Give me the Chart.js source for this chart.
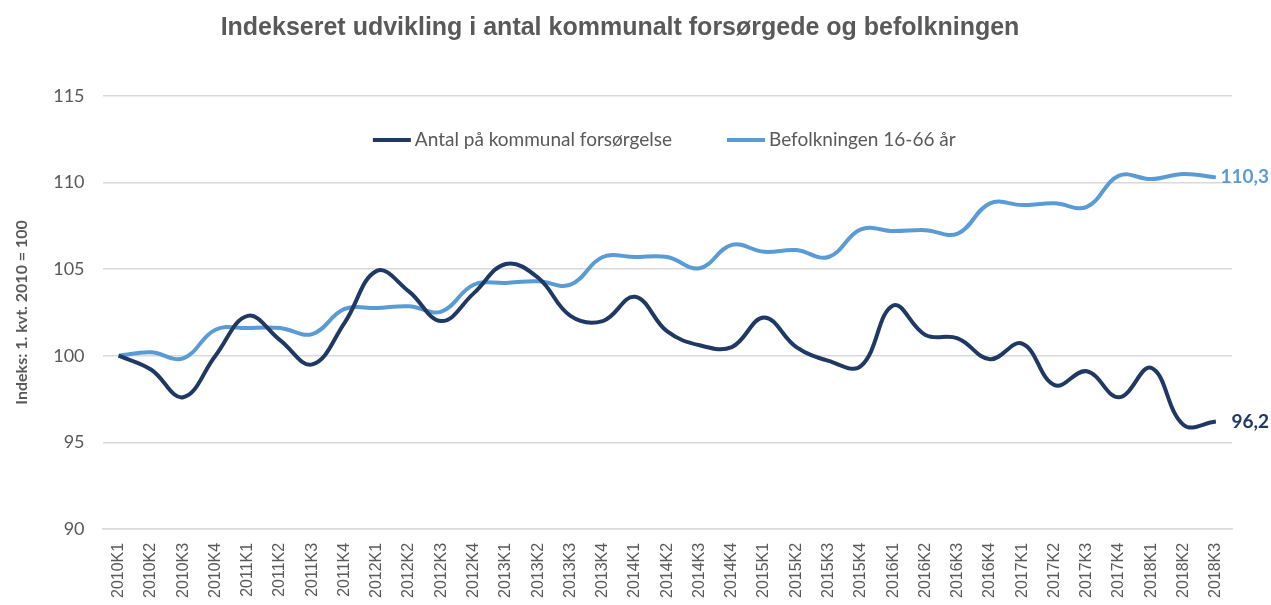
<!DOCTYPE html>
<html>
<head>
<meta charset="utf-8">
<script src="https://cdn.jsdelivr.net/npm/chart.js@4.4.1/dist/chart.umd.min.js"></script>
<style>
  html, body { margin: 0; padding: 0; background: #fff; }
  #wrap { width: 1271px; height: 605px; }
</style>
</head>
<body>
<div id="wrap"><canvas id="chart"></canvas></div>
<script>
// ======================
// Data
// ======================
const kvartaler = [
  "2010K1","2010K2","2010K3","2010K4",
  "2011K1","2011K2","2011K3","2011K4",
  "2012K1","2012K2","2012K3","2012K4",
  "2013K1","2013K2","2013K3","2013K4",
  "2014K1","2014K2","2014K3","2014K4",
  "2015K1","2015K2","2015K3","2015K4",
  "2016K1","2016K2","2016K3","2016K4",
  "2017K1","2017K2","2017K3","2017K4",
  "2018K1","2018K2","2018K3"
];

const forsoergede = [
  100.0, 99.2, 97.6, 100.0,
  102.3, 100.9, 99.5, 101.9,
  104.9, 103.7, 102.0, 103.6,
  105.3, 104.5, 102.3, 102.0,
  103.4, 101.4, 100.6, 100.5,
  102.2, 100.5, 99.7, 99.4,
  102.9, 101.2, 101.0, 99.8,
  100.7, 98.3, 99.1, 97.6,
  99.3, 96.0, 96.2
];

const befolkning = [
  100.0, 100.2, 99.85, 101.5,
  101.6, 101.6, 101.25, 102.7,
  102.75, 102.85, 102.55, 104.1,
  104.2, 104.3, 104.1, 105.7,
  105.7, 105.7, 105.05, 106.4,
  106.0, 106.1, 105.7, 107.3,
  107.2, 107.25, 107.05, 108.8,
  108.7, 108.8, 108.6, 110.4,
  110.2, 110.5, 110.3
];

const yTicks = [90, 95, 100, 105, 110, 115];

const MOERK = "#1f3864";
const LYS = "#5b9bd5";
const GRAA = "#595959";
const FONT = "Lato, 'Open Sans', sans-serif";
const ARIAL = "'Liberation Sans', Arial, sans-serif";

// Forklaring inde i plotområdet
const innerLegend = {
  id: "innerLegend",
  afterDraw(chart) {
    const ctx = chart.ctx;
    const area = chart.chartArea;
    const lineW = 38, gapTxt = 4, gapItem = 55;
    ctx.save();
    ctx.font = "19px " + FONT;
    ctx.textBaseline = "middle";
    const items = chart.data.datasets.map(ds => ({
      label: ds.label, color: ds.borderColor, w: lineW + gapTxt + ctx.measureText(ds.label).width
    }));
    const total = items.reduce((s, it) => s + it.w, 0) + gapItem * (items.length - 1);
    let x = (area.left + area.right) / 2 - total / 2 - 3;
    const y = area.top + 44;
    items.forEach(it => {
      ctx.fillStyle = it.color;
      ctx.fillRect(x, y - 2, lineW, 4);
      ctx.fillStyle = GRAA;
      ctx.fillText(it.label, x + lineW + gapTxt, y);
      x += it.w + gapItem;
    });
    ctx.restore();
  }
};

// Slutværdier ved sidste punkt
const endLabels = {
  id: "endLabels",
  afterDatasetsDraw(chart) {
    const ctx = chart.ctx;
    ctx.save();
    ctx.font = "bold 19px " + FONT;
    ctx.textBaseline = "middle";
    ctx.textAlign = "right";
    chart.data.datasets.forEach((ds, i) => {
      const meta = chart.getDatasetMeta(i);
      const pt = meta.data[meta.data.length - 1];
      const v = ds.data[ds.data.length - 1];
      ctx.fillStyle = ds.borderColor;
      ctx.fillText(v.toFixed(1).replace(".", ","), chart.width - 2, pt.y);
    });
    ctx.restore();
  }
};

new Chart(document.getElementById("chart"), {
  type: "line",
  data: {
    labels: kvartaler,
    datasets: [
      {
        label: "Antal på kommunal forsørgelse",
        data: forsoergede,
        borderColor: MOERK,
        backgroundColor: MOERK,
        borderWidth: 4,
        pointRadius: 0,
        tension: 0.4
      },
      {
        label: "Befolkningen 16-66 år",
        data: befolkning,
        borderColor: LYS,
        backgroundColor: LYS,
        borderWidth: 4,
        pointRadius: 0,
        tension: 0.4
      }
    ]
  },
  options: {
    responsive: true,
    maintainAspectRatio: false,
    animation: false,
    layout: { padding: { left: 8, right: 39, top: 10, bottom: 1 } },
    plugins: {
      title: {
        display: true,
        text: "Indekseret udvikling i antal kommunalt forsørgede og befolkningen",
        color: GRAA,
        font: { family: ARIAL, size: 25, weight: "bold" },
        padding: { top: 3, bottom: 53 }
      },
      legend: { display: false },
      tooltip: { enabled: false }
    },
    scales: {
      x: {
        offset: true,
        grid: { display: false },
        border: { color: "#d9d9d9", width: 1.5 },
        ticks: {
          color: GRAA,
          autoSkip: false,
          minRotation: 90,
          maxRotation: 90,
          padding: 6,
          font: { family: ARIAL, size: 16 }
        }
      },
      y: {
        min: 90,
        max: 115,
        afterBuildTicks(axis) {
          axis.ticks = yTicks.map(v => ({ value: v }));
        },
        grid: { color: "#d9d9d9", lineWidth: 1.5, drawTicks: false },
        border: { display: false },
        ticks: {
          color: GRAA,
          padding: 18,
          font: { family: FONT, size: 18 }
        },
        title: {
          display: true,
          text: "Indeks: 1. kvt. 2010 = 100",
          color: GRAA,
          font: { family: FONT, size: 16, weight: "bold" },
          padding: { bottom: 4 }
        }
      }
    }
  },
  plugins: [innerLegend, endLabels]
});
</script>
</body>
</html>
